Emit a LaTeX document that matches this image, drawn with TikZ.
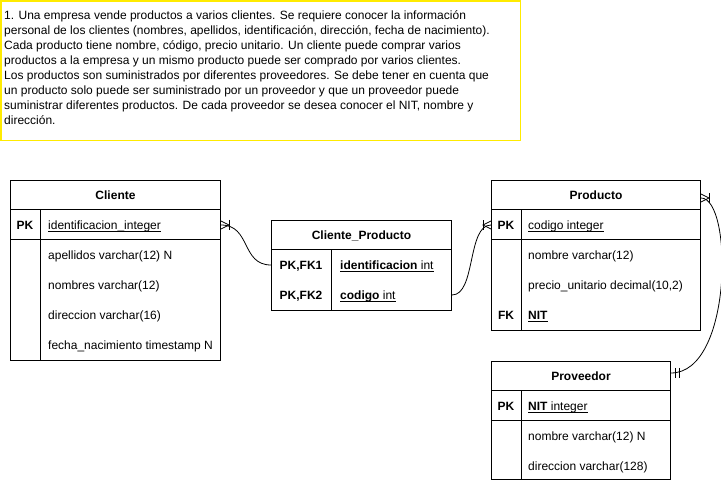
\documentclass[tikz,border=0pt]{standalone}
\usepackage{fontspec}
\setmainfont{Liberation Sans}
\usetikzlibrary{calc,positioning}
\definecolor{NoteClr}{RGB}{255,235,0}
\newcommand\keyul[1]{\setbox0\hbox{#1}\rlap{\rule[-2.2pt]{\wd0}{0.8pt}}\box0}

\tikzset{
  tbl/.style={draw,line width=1pt,inner sep=0pt,anchor=north west},
  title/.style={font=\fontsize{12}{15}\selectfont\bfseries,anchor=base},
  key/.style={font=\fontsize{12}{15}\selectfont\bfseries,anchor=base},
  field/.style={anchor=base west,inner sep=0pt},
  rel/.style={line width=0.8pt},
  many/.pic={\draw[rel] (0,-4) -- (8,0) -- (0,4); \draw[rel] (8,-5) -- (8,5);},
  one/.pic={\draw[rel] (4,-5) -- (4,5); \draw[rel] (8,-5) -- (8,5);},
}

\begin{document}
\begin{tikzpicture}[x=1pt,y=-1pt,font=\fontsize{12}{15}\selectfont]
\useasboundingbox (0,0) rectangle (721,481);

% enunciado
\draw[NoteClr,line width=1.3pt] (1,1) rectangle (520.5,140.5);
\node[anchor=north west,inner sep=0pt,align=left] (note) at (4,10.5)
 {1. Una empresa vende productos a varios clientes. Se requiere conocer la información\\
  personal de los clientes (nombres, apellidos, identificación, dirección, fecha de nacimiento).\\
  Cada producto tiene nombre, código, precio unitario. Un cliente puede comprar varios\\
  productos a la empresa y un mismo producto puede ser comprado por varios clientes.\\
  Los productos son suministrados por diferentes proveedores. Se debe tener en cuenta que\\
  un producto solo puede ser suministrado por un proveedor y que un proveedor puede\\
  suministrar diferentes productos. De cada proveedor se desea conocer el NIT, nombre y\\
  dirección.};

% Cliente
\node[tbl,minimum width=210,minimum height=180] (cli) at (10,180) {};
\draw[line width=1pt] ($(cli.north west)+(0,30)$) -- ++(210,0);
\draw[line width=1pt] ($(cli.north west)+(0,60)$) -- ++(210,0);
\draw[line width=1pt] ($(cli.north west)+(30,30)$) -- (cli.south west -| {$(cli.north west)+(30,0)$});
\node[title] at ($(cli.north)+(0,20)$) {Cliente};
\node[key] at ($(cli.north west)+(15,50)$) {PK};
\node[field] at ($(cli.north west)+(38,50)$) {\keyul{identificacion\_integer}};
\node[field] at ($(cli.north west)+(38,80)$) {apellidos varchar(12) N};
\node[field] at ($(cli.north west)+(38,110)$) {nombres varchar(12)};
\node[field] at ($(cli.north west)+(38,140)$) {direccion varchar(16)};
\node[field] at ($(cli.north west)+(38,170)$) {fecha\_nacimiento timestamp N};

% Cliente_Producto
\node[tbl,minimum width=180,minimum height=90] (cp) at (271,220) {};
\draw[line width=1pt] ($(cp.north west)+(0,30)$) -- ++(180,0);
\draw[line width=1pt] ($(cp.north west)+(60,30)$) -- (cp.south west -| {$(cp.north west)+(60,0)$});
\node[title] at ($(cp.north)+(0,20)$) {Cliente\_Producto};
\node[key] at ($(cp.north west)+(30,50)$) {PK,FK1};
\node[key] at ($(cp.north west)+(30,80)$) {PK,FK2};
\node[field] at ($(cp.north west)+(69,50)$) {\keyul{\textbf{identificacion} int}};
\node[field] at ($(cp.north west)+(69,80)$) {\keyul{\textbf{codigo} int}};

% Producto
\node[tbl,minimum width=209,minimum height=150] (prod) at (491,180) {};
\draw[line width=1pt] ($(prod.north west)+(0,30)$) -- ++(209,0);
\draw[line width=1pt] ($(prod.north west)+(0,60)$) -- ++(209,0);
\draw[line width=1pt] ($(prod.north west)+(30,30)$) -- (prod.south west -| {$(prod.north west)+(30,0)$});
\node[title] at ($(prod.north)+(0,20)$) {Producto};
\node[key] at ($(prod.north west)+(15,50)$) {PK};
\node[field] at ($(prod.north west)+(37,50)$) {\keyul{codigo integer}};
\node[field] at ($(prod.north west)+(37,80)$) {nombre varchar(12)};
\node[field] at ($(prod.north west)+(37,110)$) {precio\_unitario decimal(10,2)};
\node[key] at ($(prod.north west)+(15,140)$) {FK};
\node[field] at ($(prod.north west)+(37,140)$) {\keyul{\textbf{NIT}}};

% Proveedor
\node[tbl,minimum width=179,minimum height=118] (prov) at (491,361) {};
\draw[line width=1pt] ($(prov.north west)+(0,29.5)$) -- ++(179,0);
\draw[line width=1pt] ($(prov.north west)+(0,59.5)$) -- ++(179,0);
\draw[line width=1pt] ($(prov.north west)+(30,29.5)$) -- (prov.south west -| {$(prov.north west)+(30,0)$});
\node[title] at ($(prov.north)+(0,19.5)$) {Proveedor};
\node[key] at ($(prov.north west)+(15,49.5)$) {PK};
\node[field] at ($(prov.north west)+(37,49.5)$) {\keyul{\textbf{NIT} integer}};
\node[field] at ($(prov.north west)+(37,79.5)$) {nombre varchar(12) N};
\node[field] at ($(prov.north west)+(37,109.5)$) {direccion varchar(128)};

% relaciones
\coordinate (cli-pk) at ($(cli.north east)+(0,45)$);
\coordinate (cp-fk1) at ($(cp.north west)+(0,45)$);
\coordinate (cp-fk2) at ($(cp.north east)+(0,75)$);
\coordinate (prod-pk) at ($(prod.north west)+(0,45)$);
\coordinate (prod-t) at ($(prod.north east)+(0,18)$);
\coordinate (prov-t) at ($(prov.north east)+(0,12)$);

\draw[rel] (cli-pk) .. controls +(30,0) and +(-30,0) .. (cp-fk1);
\draw[rel] (cp-fk2) .. controls +(24,0) and +(-24,0) .. (prod-pk);
\draw[rel] (prod-t) .. controls +(32,0) and +(62,0) .. (prov-t);

\path (cli-pk) pic {many};
\path (prod-pk) pic[rotate=180] {many};
\path (prod-t) pic {many};
\path (prov-t) pic {one};

\end{tikzpicture}
\end{document}
